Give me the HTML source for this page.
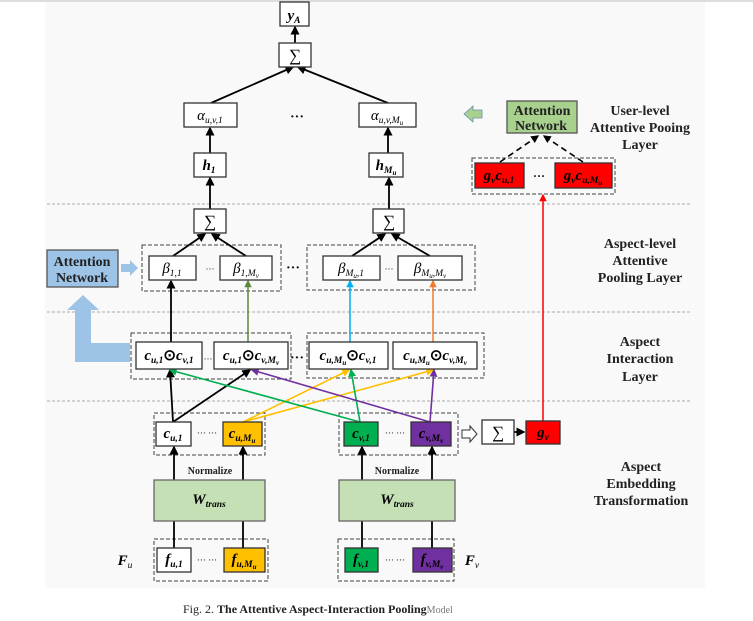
<!DOCTYPE html>
<html><head><meta charset="utf-8"><style>
html,body{margin:0;padding:0;background:#fff;}
svg{display:block;}
text{font-family:"Liberation Serif",serif;}
.m{font-style:italic;font-weight:bold;font-size:15px;}
.s{font-size:9.5px;}
.lab{font-weight:bold;font-size:14px;fill:#222;}
</style></head><body>
<svg width="753" height="621" viewBox="0 0 753 621" xmlns="http://www.w3.org/2000/svg">
<defs>
<marker id="ak" viewBox="0 0 6 6" refX="5" refY="3" markerWidth="5" markerHeight="5" orient="auto"><path d="M0,0L6,3L0,6z" fill="#000"/></marker>
<marker id="ag" viewBox="0 0 6 6" refX="5" refY="3" markerWidth="5" markerHeight="5" orient="auto"><path d="M0,0L6,3L0,6z" fill="#00b050"/></marker>
<marker id="ay" viewBox="0 0 6 6" refX="5" refY="3" markerWidth="5" markerHeight="5" orient="auto"><path d="M0,0L6,3L0,6z" fill="#ffc000"/></marker>
<marker id="ap" viewBox="0 0 6 6" refX="5" refY="3" markerWidth="5" markerHeight="5" orient="auto"><path d="M0,0L6,3L0,6z" fill="#7030a0"/></marker>
<marker id="ad" viewBox="0 0 6 6" refX="5" refY="3" markerWidth="5" markerHeight="5" orient="auto"><path d="M0,0L6,3L0,6z" fill="#5a8a3a"/></marker>
<marker id="ab" viewBox="0 0 6 6" refX="5" refY="3" markerWidth="5" markerHeight="5" orient="auto"><path d="M0,0L6,3L0,6z" fill="#00b0f0"/></marker>
<marker id="ao" viewBox="0 0 6 6" refX="5" refY="3" markerWidth="5" markerHeight="5" orient="auto"><path d="M0,0L6,3L0,6z" fill="#ed7d31"/></marker>
<marker id="ar" viewBox="0 0 6 6" refX="5" refY="3" markerWidth="5" markerHeight="5" orient="auto"><path d="M0,0L6,3L0,6z" fill="#ff0000"/></marker>
</defs>
<rect x="45" y="0" width="660" height="588" fill="#f9f9f9"/>
<rect x="0" y="0" width="753" height="2" fill="#ddd"/>
<g stroke="#aaa" stroke-dasharray="3,2" stroke-width="1">
<line x1="47" y1="204" x2="690" y2="204"/>
<line x1="47" y1="312" x2="690" y2="312"/>
<line x1="47" y1="401" x2="690" y2="401"/>
</g>
<path d="M75,310 L91,310 L91,343 L130,343 L130,362 L75,362 Z" fill="#9dc3e6"/>
<path d="M67,310 L83,295 L99,310 Z" fill="#9dc3e6"/>
<g fill="none" stroke="#444" stroke-dasharray="4,2" stroke-width="1">
<rect x="142" y="245" width="139" height="46"/>
<rect x="307" y="245" width="168" height="45"/>
<rect x="472" y="158" width="143" height="36"/>
<rect x="131" y="333" width="160" height="46"/>
<rect x="307" y="333" width="177" height="45"/>
<rect x="154" y="413" width="111" height="42"/>
<rect x="339" y="413" width="119" height="42"/>
<rect x="154" y="539" width="114" height="42"/>
<rect x="338" y="539" width="116" height="42"/>
</g>
<g stroke="#000" stroke-width="1.8" fill="none" marker-end="url(#ak)">
<line x1="295" y1="43" x2="295" y2="27"/>
<line x1="211" y1="103" x2="293" y2="67"/>
<line x1="388" y1="103" x2="298" y2="67"/>
<line x1="210" y1="153" x2="210" y2="128"/>
<line x1="388" y1="153" x2="388" y2="128"/>
<line x1="210" y1="209" x2="210" y2="178"/>
<line x1="389" y1="209" x2="389" y2="178"/>
<line x1="173" y1="256" x2="205" y2="234"/>
<line x1="246" y1="256" x2="212" y2="234"/>
<line x1="352" y1="256" x2="385" y2="234"/>
<line x1="430" y1="256" x2="392" y2="234"/>
<line x1="171" y1="342" x2="171" y2="281"/>
<line x1="173" y1="422" x2="170" y2="370"/>
<line x1="173" y1="422" x2="250" y2="370"/>
<line x1="174" y1="480" x2="174" y2="447"/>
<line x1="243" y1="480" x2="243" y2="447"/>
<line x1="362" y1="480" x2="362" y2="447"/>
<line x1="432" y1="480" x2="432" y2="447"/>
<line x1="514" y1="432" x2="524" y2="432"/>
</g>
<g stroke="#000" stroke-width="1.8">
<line x1="174" y1="521" x2="174" y2="548"/>
<line x1="243" y1="521" x2="243" y2="548"/>
<line x1="362" y1="521" x2="362" y2="548"/>
<line x1="432" y1="521" x2="432" y2="548"/>
</g>
<line x1="248" y1="342" x2="248" y2="281" stroke="#5a8a3a" stroke-width="1.5" marker-end="url(#ad)"/>
<line x1="350" y1="342" x2="350" y2="281" stroke="#00b0f0" stroke-width="1.5" marker-end="url(#ab)"/>
<line x1="433" y1="342" x2="433" y2="281" stroke="#ed7d31" stroke-width="1.5" marker-end="url(#ao)"/>
<line x1="543" y1="421" x2="543" y2="195" stroke="#ff0000" stroke-width="1.5" marker-end="url(#ar)"/>
<g stroke-width="1.6">
<line x1="243" y1="422" x2="349" y2="370" stroke="#ffc000" marker-end="url(#ay)"/>
<line x1="243" y1="422" x2="433" y2="370" stroke="#ffc000" marker-end="url(#ay)"/>
<line x1="360" y1="422" x2="170" y2="370" stroke="#00b050" marker-end="url(#ag)"/>
<line x1="360" y1="422" x2="351" y2="370" stroke="#00b050" marker-end="url(#ag)"/>
<line x1="430" y1="422" x2="252" y2="370" stroke="#7030a0" marker-end="url(#ap)"/>
<line x1="430" y1="422" x2="434" y2="370" stroke="#7030a0" marker-end="url(#ap)"/>
</g>
<g stroke="#000" stroke-width="1.6" stroke-dasharray="6,4" marker-end="url(#ak)">
<line x1="500" y1="162" x2="538" y2="136"/>
<line x1="583" y1="162" x2="544" y2="136"/>
</g>
<g stroke="#333" stroke-width="1.3" fill="#fff">
<rect x="280" y="2" width="29" height="24"/>
<rect x="279" y="43" width="32" height="24"/>
<rect x="184" y="103" width="53" height="24"/>
<rect x="359" y="103" width="57" height="24"/>
<rect x="194" y="153" width="32" height="24"/>
<rect x="369" y="153" width="34" height="24"/>
<rect x="194" y="209" width="32" height="24"/>
<rect x="373" y="209" width="31" height="24"/>
<rect x="149" y="256" width="47" height="24"/>
<rect x="220" y="256" width="52" height="24"/>
<rect x="323" y="256" width="57" height="24"/>
<rect x="398" y="256" width="64" height="24"/>
<rect x="136" y="342" width="66" height="27"/>
<rect x="214" y="342" width="74" height="27"/>
<rect x="309" y="342" width="79" height="27"/>
<rect x="393" y="342" width="84" height="27"/>
<rect x="156" y="422" width="35" height="24"/>
<rect x="223" y="422" width="39" height="24" fill="#ffc000"/>
<rect x="344" y="422" width="34" height="24" fill="#00b050"/>
<rect x="411" y="422" width="40" height="24" fill="#7030a0"/>
<rect x="482" y="420" width="32" height="24"/>
<rect x="526" y="421" width="34" height="23" fill="#ff0000"/>
<rect x="475" y="163" width="49" height="25" fill="#ff0000"/>
<rect x="555" y="163" width="57" height="25" fill="#ff0000"/>
<rect x="157" y="548" width="34" height="24"/>
<rect x="224" y="548" width="41" height="24" fill="#ffc000"/>
<rect x="345" y="548" width="33" height="24" fill="#00b050"/>
<rect x="413" y="548" width="39" height="24" fill="#7030a0"/>
<rect x="154" y="480" width="111" height="41" fill="#c5e0b4" stroke="#666"/>
<rect x="339" y="480" width="116" height="41" fill="#c5e0b4" stroke="#666"/>
<rect x="47" y="250" width="71" height="37" fill="#9dc3e6" stroke="#555"/>
<rect x="507" y="101" width="70" height="32" fill="#a9d18e" stroke="#555"/>
</g>
<path d="M121,264 L130,264 L130,260 L138,268 L130,276 L130,272 L121,272 Z" fill="#9dc3e6"/>
<path d="M482,110 L473,110 L473,106 L464,114 L473,122 L473,118 L482,118 Z" fill="#a9d18e" stroke="#6a8fb8" stroke-width="0.8"/>
<path d="M462,430 L470,430 L470,426 L477,434 L470,442 L470,438 L462,438 Z" fill="#fff" stroke="#333" stroke-width="1"/>
<g class="m" text-anchor="middle">
<text x="294" y="20">y<tspan class="s" dy="3">A</tspan></text>
<text x="295" y="61" font-style="normal" font-weight="normal" font-size="17">∑</text>
<text x="210" y="227" font-style="normal" font-weight="normal" font-size="17">∑</text>
<text x="389" y="227" font-style="normal" font-weight="normal" font-size="17">∑</text>
<text x="498" y="438" font-style="normal" font-weight="normal" font-size="17">∑</text>
<text x="210" y="120" font-weight="normal">α<tspan class="s" dy="3">u,v,1</tspan></text>
<text x="387" y="120" font-weight="normal">α<tspan class="s" dy="3">u,v,M<tspan font-size="7" dy="2">u</tspan></tspan></text>
<text x="209" y="170">h<tspan class="s" dy="3">1</tspan></text>
<text x="386" y="170">h<tspan class="s" dy="3">M<tspan font-size="7" dy="2">u</tspan></tspan></text>
<text x="172" y="273" font-weight="normal">β<tspan class="s" dy="3">1,1</tspan></text>
<text x="246" y="273" font-weight="normal">β<tspan class="s" dy="3">1,M<tspan font-size="7" dy="2">v</tspan></tspan></text>
<text x="351" y="273" font-weight="normal">β<tspan class="s" dy="3">M<tspan font-size="7" dy="2">u</tspan><tspan dy="-2">,1</tspan></tspan></text>
<text x="430" y="273" font-weight="normal">β<tspan class="s" dy="3">M<tspan font-size="7" dy="2">u</tspan><tspan dy="-2">,M</tspan><tspan font-size="7" dy="2">v</tspan></tspan></text>
<text x="169" y="360">c<tspan class="s" dy="3">u,1</tspan><tspan dy="-3" font-style="normal">⊙</tspan>c<tspan class="s" dy="3">v,1</tspan></text>
<text x="251" y="360">c<tspan class="s" dy="3">u,1</tspan><tspan dy="-3" font-style="normal">⊙</tspan>c<tspan class="s" dy="3">v,M<tspan font-size="7" dy="2">v</tspan></tspan></text>
<text x="348" y="360">c<tspan class="s" dy="3">u,M<tspan font-size="7" dy="2">u</tspan></tspan><tspan dy="-5" font-style="normal">⊙</tspan>c<tspan class="s" dy="3">v,1</tspan></text>
<text x="435" y="360">c<tspan class="s" dy="3">u,M<tspan font-size="7" dy="2">u</tspan></tspan><tspan dy="-5" font-style="normal">⊙</tspan>c<tspan class="s" dy="3">v,M<tspan font-size="7" dy="2">v</tspan></tspan></text>
<text x="173" y="438">c<tspan class="s" dy="3">u,1</tspan></text>
<text x="242" y="438">c<tspan class="s" dy="3">u,M<tspan font-size="7" dy="2">u</tspan></tspan></text>
<text x="361" y="438">c<tspan class="s" dy="3">v,1</tspan></text>
<text x="431" y="438">c<tspan class="s" dy="3">v,M<tspan font-size="7" dy="2">v</tspan></tspan></text>
<text x="543" y="437">g<tspan class="s" dy="3">v</tspan></text>
<text x="499" y="180">g<tspan class="s" dy="3">v</tspan><tspan dy="-3">c</tspan><tspan class="s" dy="3">u,1</tspan></text>
<text x="583" y="180">g<tspan class="s" dy="3">v</tspan><tspan dy="-3">c</tspan><tspan class="s" dy="3">u,M<tspan font-size="7" dy="2">u</tspan></tspan></text>
<text x="174" y="564">f<tspan class="s" dy="3">u,1</tspan></text>
<text x="244" y="564">f<tspan class="s" dy="3">u,M<tspan font-size="7" dy="2">u</tspan></tspan></text>
<text x="361" y="564">f<tspan class="s" dy="3">v,1</tspan></text>
<text x="432" y="564">f<tspan class="s" dy="3">v,M<tspan font-size="7" dy="2">v</tspan></tspan></text>
<text x="209" y="504">W<tspan class="s" dy="3">trans</tspan></text>
<text x="397" y="504">W<tspan class="s" dy="3">trans</tspan></text>
<text x="125" y="565">F<tspan class="s" dy="3" font-weight="normal">u</tspan></text>
<text x="472" y="565">F<tspan class="s" dy="3" font-weight="normal">v</tspan></text>
</g>
<g font-size="12" text-anchor="middle" fill="#111">
<text x="297" y="121" font-size="14" font-weight="bold">···</text>
<text x="293" y="272" font-size="14" font-weight="bold">···</text>
<text x="297" y="362" font-size="14" font-weight="bold">···</text>
<text x="210" y="272" font-size="9">···</text>
<text x="389" y="272" font-size="9">···</text>
<text x="208" y="362" font-size="9">···</text>
<text x="539" y="180" font-size="12" font-weight="bold">···</text>
<text x="207" y="436" font-size="9">··· ···</text>
<text x="395" y="436" font-size="9">··· ···</text>
<text x="207" y="563" font-size="9">··· ···</text>
<text x="395" y="563" font-size="9">··· ···</text>
</g>
<g class="lab" text-anchor="middle">
<text x="82" y="266">Attention</text><text x="82" y="282">Network</text>
<text x="542" y="115">Attention</text><text x="541" y="130">Network</text>
<text x="640" y="115">User-level</text><text x="640" y="132">Attentive Pooing</text><text x="640" y="149">Layer</text>
<text x="640" y="248">Aspect-level</text><text x="640" y="265">Attentive</text><text x="640" y="282">Pooling Layer</text>
<text x="640" y="346">Aspect</text><text x="640" y="363">Interaction</text><text x="640" y="381">Layer</text>
<text x="641" y="471">Aspect</text><text x="641" y="488">Embedding</text><text x="641" y="505">Transformation</text>
<text x="210" y="474" font-size="10">Normalize</text>
<text x="397" y="474" font-size="10">Normalize</text>
</g>
<text x="183" y="613" font-family="Liberation Sans,sans-serif" font-size="12" fill="#222">Fig. 2.  <tspan font-weight="bold">The Attentive Aspect-Interaction Pooling</tspan><tspan font-size="10" fill="#777">Model</tspan></text>
</svg>
</body></html>
